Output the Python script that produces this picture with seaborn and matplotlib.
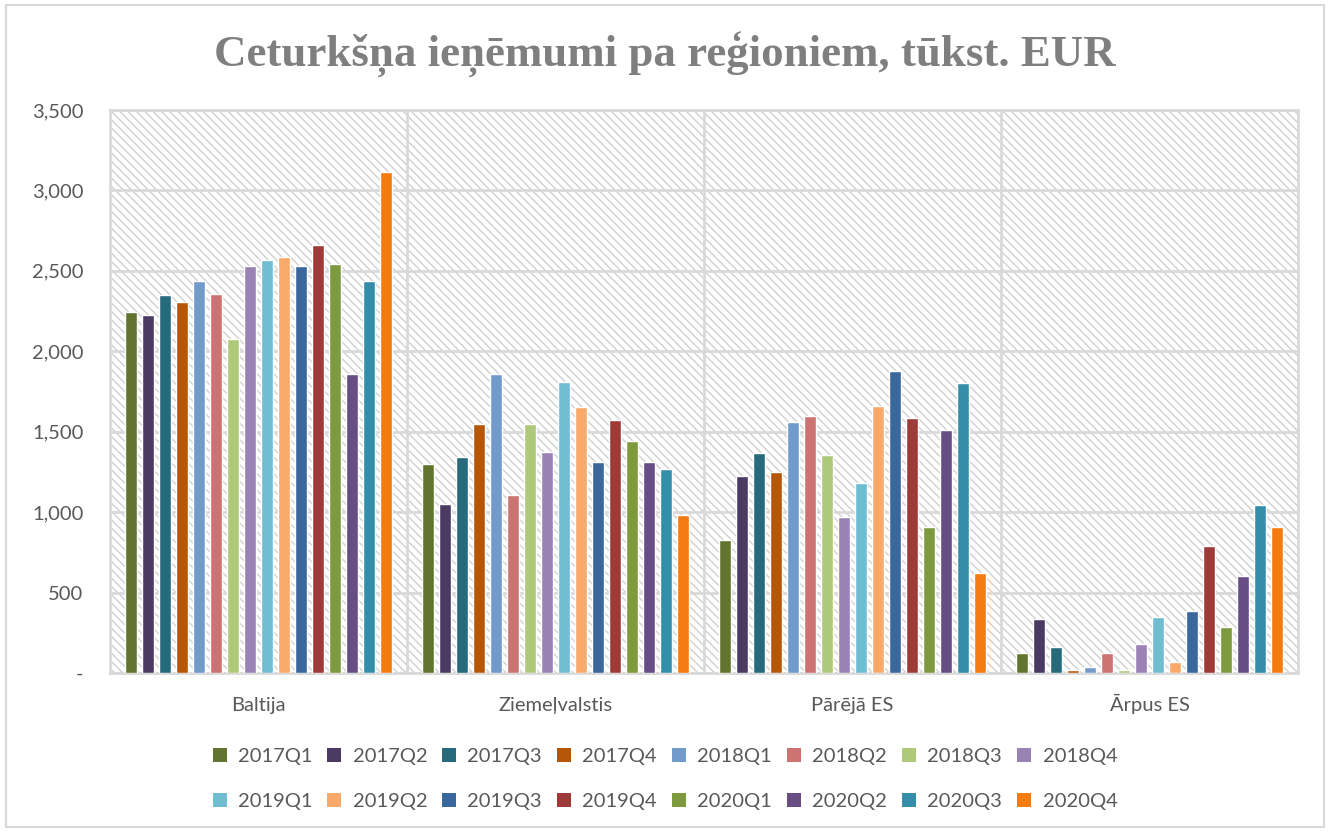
import numpy as np
import pandas as pd
import seaborn as sns
import matplotlib.pyplot as plt
from matplotlib.patches import Rectangle, Patch

# data (thousand EUR)
regions = ["Baltija", "Ziemeļvalstis", "Pārējā ES", "Ārpus ES"]
quarters = ["2017Q1", "2017Q2", "2017Q3", "2017Q4",
            "2018Q1", "2018Q2", "2018Q3", "2018Q4",
            "2019Q1", "2019Q2", "2019Q3", "2019Q4",
            "2020Q1", "2020Q2", "2020Q3", "2020Q4"]
baltija = [2242, 2224, 2350, 2305, 2435, 2358, 2076, 2530,
           2566, 2584, 2532, 2663, 2543, 1861, 2437, 3115]
ziemelvalstis = [1301, 1049, 1341, 1546, 1861, 1107, 1546, 1374,
                 1809, 1652, 1314, 1571, 1440, 1310, 1268, 982]
pareja_es = [825, 1227, 1368, 1252, 1560, 1596, 1357, 970,
             1183, 1662, 1876, 1587, 908, 1509, 1801, 622]
arpus_es = [122, 338, 162, 19, 37, 124, 17, 182,
            348, 70, 387, 788, 288, 605, 1043, 910]

colors = ["#637430", "#4B3A61", "#276A7C", "#B65708",
          "#729ACA", "#CD7371", "#AFC97A", "#9983B5",
          "#6FBDD1", "#F9AA6B", "#3A679C", "#9E3B39",
          "#7E9A3F", "#664E85", "#358EA9", "#F47B0F"]

rows = []
for reg, vals in zip(regions, [baltija, ziemelvalstis, pareja_es, arpus_es]):
    for q, v in zip(quarters, vals):
        rows.append({"Reģions": reg, "Ceturksnis": q, "Vērtība": v})
df = pd.DataFrame(rows)

sns.set_style("white")
plt.rcParams["font.family"] = ["Lato", "DejaVu Sans"]
plt.rcParams["hatch.linewidth"] = 1.0

fig = plt.figure(figsize=(13.3, 8.32), dpi=100)
ax = fig.add_axes([110 / 1330, 1 - 673 / 832, 1188 / 1330, 563 / 832])

# hatched plot-area background
bg = Rectangle((0, 0), 1, 1, transform=ax.transAxes, facecolor="white",
               edgecolor="#d0d0d0", hatch="\\\\\\\\", linewidth=0, zorder=0)
ax.add_patch(bg)

sns.barplot(data=df, x="Reģions", y="Vērtība", hue="Ceturksnis",
            palette=colors, width=0.916, gap=0.3, ax=ax,
            legend=False, zorder=3, saturation=1)

ax.set_ylim(0, 3500)
ax.set_xlim(-0.5, 3.5)
ax.set_yticks(np.arange(0, 3501, 500))
ax.set_yticklabels(["-"] + [f"{v:,}" for v in range(500, 3501, 500)])
ax.yaxis.grid(True, color="#d9d9d9", linewidth=2, zorder=1)
ax.set_axisbelow(True)
for xb in [0.5, 1.5, 2.5]:
    ax.axvline(xb, color="#d9d9d9", linewidth=2, zorder=1)
for sp in ax.spines.values():
    sp.set_color("#d9d9d9")
    sp.set_linewidth(2)
ax.tick_params(axis="both", length=0, labelsize=14.5, colors="#595959")
ax.tick_params(axis="y", pad=19)
ax.tick_params(axis="x", pad=27)
for lbl in ax.get_xticklabels():
    lbl.set_verticalalignment("baseline")
ax.set_xlabel("")
ax.set_ylabel("")

fig.text(0.5, 1 - 55 / 832, "Ceturkšņa ieņēmumi pa reģioniem, tūkst. EUR",
         ha="center", va="center", fontsize=32.3, fontweight="bold",
         color="#7f7f7f", family="Liberation Serif")

# legend filled column-wise, so interleave to get row order
order = [i + r * 8 for i in range(8) for r in range(2)]
handles = [Patch(facecolor=colors[i], edgecolor="none") for i in order]
labels = [quarters[i] for i in order]
leg = fig.legend(handles, labels, ncol=8, loc="center",
                 bbox_to_anchor=(0.5, 1 - 779 / 832), frameon=False,
                 fontsize=14.5, handlelength=0.7, handleheight=0.7,
                 handletextpad=0.55, columnspacing=0.75, labelspacing=1.35)
for t in leg.get_texts():
    t.set_color("#595959")

fig.add_artist(Rectangle((6 / 1330, 5 / 832), 1318 / 1330, 822 / 832,
                         transform=fig.transFigure, fill=False,
                         edgecolor="#d9d9d9", linewidth=1.5))

fig.savefig("out.png", dpi=100)
